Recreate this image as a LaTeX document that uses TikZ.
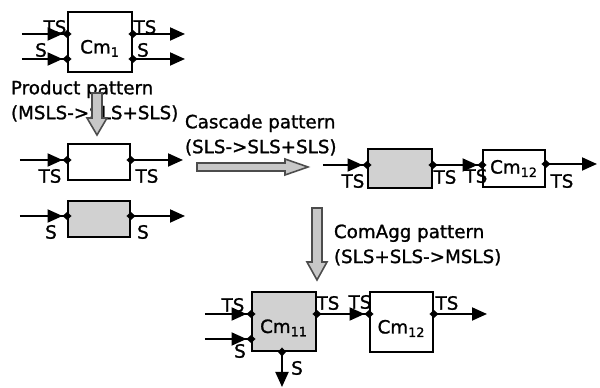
\documentclass[tikz,border=0pt]{standalone}
\usepackage{fontspec}
\setmainfont{DejaVu Sans}[UprightFeatures={FakeBold=1.2}]
\usetikzlibrary{arrows.meta}

\begin{document}
\begin{tikzpicture}[x=0.02cm, y=-0.02cm, line width=1.1pt,
  every node/.style={font=\fontsize{10.4}{14.2}\selectfont, inner sep=0pt},
  box/.style={draw, line width=1.1pt, fill=white},
  gbox/.style={box, fill=black!18},
  tall/.style={text height=0.46cm, text depth=0pt},
  inport/.style={-{Triangle[length=0.3cm,width=0.26cm,sep=0pt] Diamond[length=0.18cm,width=0.16cm]}},
  outport/.style={{Diamond[length=0.18cm,width=0.16cm]}-{Triangle[length=0.3cm,width=0.26cm]}},
  link/.style={{Diamond[length=0.18cm,width=0.16cm]}-{Triangle[length=0.3cm,width=0.26cm,sep=0pt] Diamond[length=0.18cm,width=0.16cm]}},
  patarrow/.style={draw=black!70, fill=black!22, line width=0.9pt}]
\useasboundingbox (0,0) rectangle (600,388);

% component before the patterns
\node[box, tall, minimum width=1.28cm, minimum height=1.2cm] (cm1) at (100,42) {Cm\textsubscript{1}};
\coordinate (cm1a) at (22,34);
\coordinate (cm1b) at (22,59);
\coordinate (cm1c) at (185,34);
\coordinate (cm1d) at (185,59);
\draw[inport] (cm1a) -- ([xshift=0.09cm]cm1a -| cm1.west);
\draw[inport] (cm1b) -- ([xshift=0.09cm]cm1b -| cm1.west);
\draw[outport] ([xshift=-0.09cm]cm1c -| cm1.east) -- (cm1c);
\draw[outport] ([xshift=-0.09cm]cm1d -| cm1.east) -- (cm1d);
\node (ts1) at (55,27) {TS};
\node (s1) at (41,50) {S};
\node (ts2) at (145,27) {TS};
\node (s2) at (143,50) {S};

% product pattern
\node[anchor=west, align=left] (prod) at (10,101) {Product pattern\\(MSLS->SLS+SLS)};
\draw[patarrow] (92,93) -- (102,93) -- (102,118) -- (107,118) -- (97,135) -- (87,118) -- (92,118) -- cycle;
\node[box, minimum width=1.24cm, minimum height=0.72cm] (pw) at (99,162) {};
\node[gbox, minimum width=1.24cm, minimum height=0.72cm] (pg) at (99,219) {};
\coordinate (pwa) at (20,160);
\coordinate (pwb) at (183,160);
\coordinate (pga) at (20,216);
\coordinate (pgb) at (185,216);
\draw[inport] (pwa) -- ([xshift=0.09cm]pwa -| pw.west);
\draw[outport] ([xshift=-0.09cm]pwb -| pw.east) -- (pwb);
\draw[inport] (pga) -- ([xshift=0.09cm]pga -| pg.west);
\draw[outport] ([xshift=-0.09cm]pgb -| pg.east) -- (pgb);
\node (ts3) at (50,176) {TS};
\node (ts4) at (147,176) {TS};
\node (s3) at (51,232) {S};
\node (s4) at (143,232) {S};

% cascade pattern
\node[anchor=west, align=left] (casc) at (184,135) {Cascade pattern\\(SLS->SLS+SLS)};
\draw[patarrow] (197,163) -- (285,163) -- (285,159) -- (308,167) -- (285,175) -- (285,171) -- (197,171) -- cycle;
\node[gbox, minimum width=1.28cm, minimum height=0.78cm] (cg) at (400,168.5) {};
\node[box, minimum width=1.24cm, minimum height=0.74cm] (c12) at (514,168.5) {Cm\textsubscript{12}};
\coordinate (cga) at (323,165);
\coordinate (cl) at (0,165);
\coordinate (c12b) at (597,164);
\draw[inport] (cga) -- ([xshift=0.09cm]cga -| cg.west);
\draw[link] ([xshift=-0.09cm]cl -| cg.east) -- ([xshift=0.09cm]cl -| c12.west);
\draw[outport] ([xshift=-0.09cm]c12b -| c12.east) -- (c12b);
\node (ts5) at (353,181) {TS};
\node (ts6) at (445,177) {TS};
\node (ts7) at (476,176) {TS};
\node (ts8) at (562,181) {TS};

% comagg pattern
\node[anchor=west, align=left] (comagg) at (333,245) {ComAgg pattern\\(SLS+SLS->MSLS)};
\draw[patarrow] (312,208) -- (322,208) -- (322,262) -- (327,262) -- (317,280) -- (307,262) -- (312,262) -- cycle;
\node[gbox, tall, minimum width=1.28cm, minimum height=1.18cm] (cm11) at (284,321.5) {Cm\textsubscript{11}};
\node[box, tall, minimum width=1.26cm, minimum height=1.2cm] (cm12) at (401.5,322) {Cm\textsubscript{12}};
\coordinate (cm11a) at (205,314);
\coordinate (cm11b) at (205,339);
\coordinate (bl) at (0,314);
\coordinate (cm11s) at (282,387);
\coordinate (cm12c) at (487,314);
\draw[inport] (cm11a) -- ([xshift=0.09cm]cm11a -| cm11.west);
\draw[inport] (cm11b) -- ([xshift=0.09cm]cm11b -| cm11.west);
\draw[link] ([xshift=-0.09cm]bl -| cm11.east) -- ([xshift=0.09cm]bl -| cm12.west);
\draw[outport] ([yshift=0.09cm]cm11s |- cm11.south) -- (cm11s);
\draw[outport] ([xshift=-0.09cm]cm12c -| cm12.east) -- (cm12c);
\node (ts9) at (233,305) {TS};
\node (s5) at (240,351) {S};
\node (ts10) at (328,303) {TS};
\node (ts11) at (360,302) {TS};
\node (ts12) at (447,303) {TS};
\node (s6) at (297,368) {S};
\end{tikzpicture}
\end{document}
